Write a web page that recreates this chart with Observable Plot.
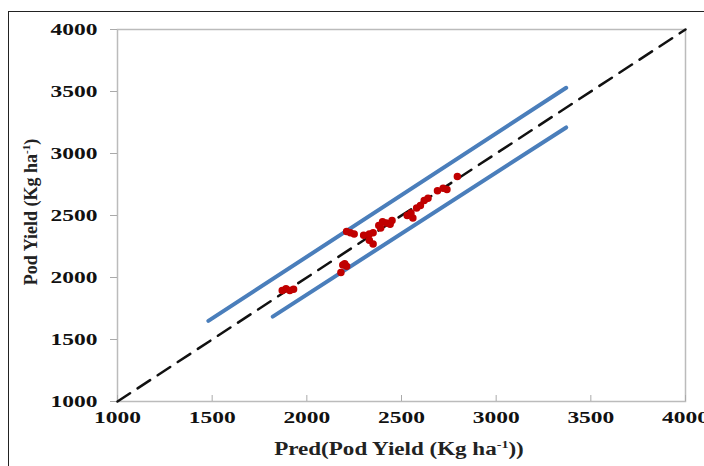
<!DOCTYPE html>
<html><head><meta charset="utf-8">
<script src="https://cdn.jsdelivr.net/npm/d3@7"></script>
<script src="https://cdn.jsdelivr.net/npm/@observablehq/plot@0.6"></script>
<style>
body{margin:0;background:#fff;}
#wrap{position:relative;width:704px;height:466px;overflow:hidden;}
#frame{position:absolute;left:8px;top:11px;width:760px;height:520px;border:1.5px solid #222;}
#chart{position:absolute;left:0;top:0;}
</style>
</head><body>
<div id="wrap"><div id="frame"></div><div id="chart"></div></div>
<script>
const xTicks = [1000, 1500, 2000, 2500, 3000, 3500, 4000];
const yTicks = [1000, 1500, 2000, 2500, 3000, 3500, 4000];
const predicted = [1870, 1890, 1910, 1930, 2180, 2190, 2200, 2210, 2210, 2230, 2250, 2300, 2330, 2350, 2330, 2350, 2380, 2390, 2400, 2420, 2440, 2450, 2530, 2550, 2560, 2580, 2600, 2620, 2640, 2690, 2720, 2740, 2795];
const observed  = [1895, 1910, 1895, 1905, 2040, 2100, 2110, 2090, 2370, 2360, 2350, 2340, 2350, 2360, 2300, 2270, 2420, 2400, 2450, 2440, 2430, 2460, 2500, 2520, 2480, 2560, 2580, 2620, 2640, 2700, 2720, 2710, 2815];
const identityX = [1000, 4000];
const identityY = [1000, 4000];
const upperX = [1480, 3370];
const upperY = [1650, 3530];
const lowerX = [1820, 3370];
const lowerY = [1685, 3210];

const pts = predicted.map((x, i) => ({x, y: observed[i]}));
const ident = identityX.map((x, i) => ({x, y: identityY[i]}));
const upper = upperX.map((x, i) => ({x, y: upperY[i]}));
const lower = lowerX.map((x, i) => ({x, y: lowerY[i]}));

const plot = Plot.plot({
  width: 704, height: 466,
  marginLeft: 117, marginRight: 19, marginTop: 29, marginBottom: 65,
  style: {fontFamily: "'Liberation Serif', serif", fontSize: "17px", fontWeight: "bold", background: "transparent", color: "#111"},
  x: {domain: [1000, 4000]},
  y: {domain: [1000, 4000]},
  marks: [
    Plot.frame({stroke: "#bbb", strokeWidth: 1.5}),
    Plot.axisX({ticks: xTicks, tickSize: 6, dy: -6, text: null, stroke: "#aaa", label: null}),
    Plot.axisX({ticks: xTicks, tickSize: 0, tickPadding: 9, label: null, tickFormat: d => String(d)}),
    Plot.axisY({ticks: yTicks, tickSize: 7, tickPadding: 13, stroke: "#aaa", label: null, tickFormat: d => String(d)}),
    Plot.line(ident, {x: "x", y: "y", stroke: "#111", strokeWidth: 2.5, strokeDasharray: "15,9"}),
    Plot.line(upper, {x: "x", y: "y", stroke: "#4a7ebb", strokeWidth: 4}),
    Plot.line(lower, {x: "x", y: "y", stroke: "#4a7ebb", strokeWidth: 4}),
    Plot.dot(pts, {x: "x", y: "y", r: 3, fill: "#c00000", stroke: "#c00000"})
  ]
});
document.getElementById("chart").appendChild(plot);
const svg = d3.select(plot);
const F = 1.38;
function stretchTicks(selector, shift) {
  svg.selectAll(selector).each(function() {
    const len = this.getComputedTextLength();
    d3.select(this).style("text-anchor", "start").attr("text-anchor", "start").attr("dx", -len * F * shift)
      .attr("textLength", len * F).attr("lengthAdjust", "spacingAndGlyphs");
  });
}
stretchTicks('g[aria-label="x-axis tick label"] text', 0.5);
stretchTicks('g[aria-label="y-axis tick label"] text', 1);
function stretchLabel(sel, f) {
  const len = sel.node().getComputedTextLength();
  sel.attr("textLength", len * f).attr("lengthAdjust", "spacingAndGlyphs");
}
const xl = svg.append("text").attr("x", 399).attr("y", 455).attr("text-anchor", "middle")
  .attr("font-size", 18).attr("font-weight", "bold").attr("fill", "#222");
xl.append("tspan").text("Pred(Pod Yield (Kg ha");
xl.append("tspan").attr("font-size", 11).attr("dy", -7).text("-1");
xl.append("tspan").attr("dy", 7).text("))");
stretchLabel(xl, 1.28);
const yl = svg.append("text").attr("transform", "translate(37,212) rotate(-90)").attr("text-anchor", "middle")
  .attr("font-size", 18).attr("font-weight", "bold").attr("fill", "#222");
yl.append("tspan").text("Pod Yield (Kg ha");
yl.append("tspan").attr("font-size", 11).attr("dy", -7).text("-1");
yl.append("tspan").attr("dy", 7).text(")");
stretchLabel(yl, 1.0);
</script>
</body></html>
